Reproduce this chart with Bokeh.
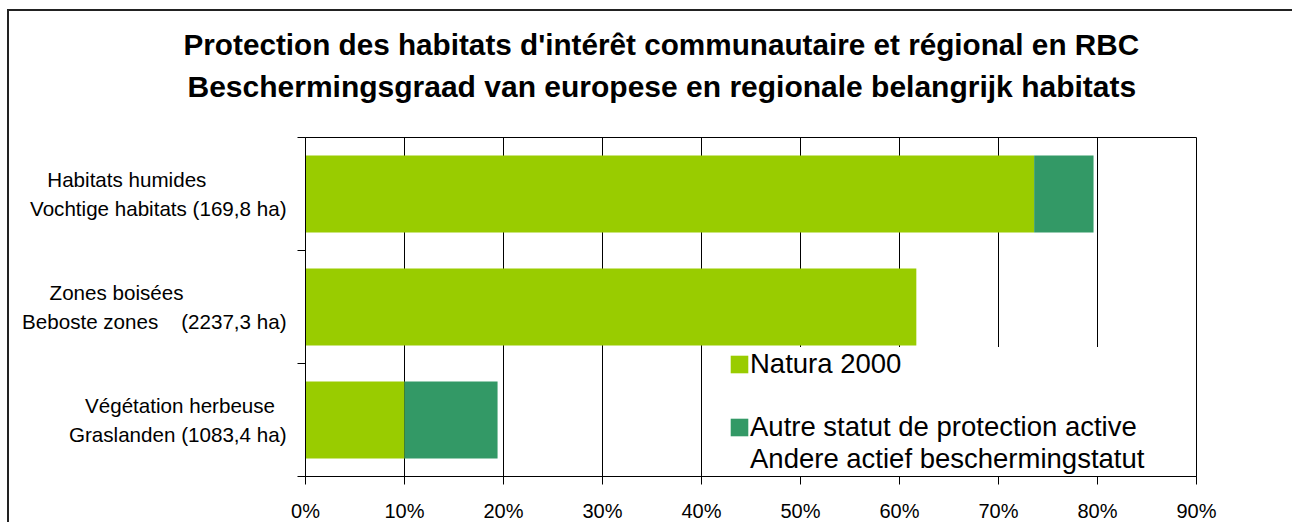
from bokeh.plotting import figure
from bokeh.models import (Range1d, FixedTicker, PrintfTickFormatter, Legend,
                          LegendItem, ColumnDataSource, Title)
from bokeh.embed import file_html
from bokeh.resources import INLINE

# ---- data ----
title_lines = ["Protection des habitats d'intérêt communautaire et régional en RBC",
               "Beschermingsgraad van europese en regionale belangrijk habitats"]
cat_fr = ["Habitats humides", "Zones boisées", "Végétation herbeuse"]
cat_nl = ["Vochtige habitats (169,8 ha)", "Beboste zones\u00a0\u00a0\u00a0 (2237,3 ha)", "Graslanden (1083,4 ha)"]
natura = [73.6, 61.7, 10.0]
autre = [6.0, 0.0, 9.4]
series_labels = ["Natura 2000", "Autre statut de protection active", "Andere actief beschermingstatut"]
x_ticks = [0, 10, 20, 30, 40, 50, 60, 70, 80, 90]

# ---- styles ----
C_NATURA = "#99CC00"
C_AUTRE = "#339966"
FONT = "Liberation Sans"
line1_pad = [14, 18, 2]   # trailing spacing of first label line

n = len(cat_fr)
ypos = [n - 1 - i + 0.5 for i in range(n)]
src = ColumnDataSource(dict(
    y=ypos,
    n_left=[0] * n, n_right=natura,
    a_left=natura, a_right=[a + b for a, b in zip(natura, autre)],
    zero=[0] * n,
))

p = figure(width=1285, height=513, x_range=Range1d(0, 90), y_range=Range1d(0, n),
           output_backend="svg", toolbar_location=None,
           min_border_left=296, min_border_right=98, min_border_top=126, min_border_bottom=46)
p.styles = {"border-left": "2px solid #222", "border-top": "2px solid #222",
            "margin-left": "7px", "margin-top": "9px"}

r1 = p.hbar(y="y", left="n_left", right="n_right", height=0.68, source=src,
            fill_color=C_NATURA, line_color=None)
r2 = p.hbar(y="y", left="a_left", right="a_right", height=0.68, source=src,
            fill_color=C_AUTRE, line_color=None)
dummy = p.hbar(y="y", left="zero", right="zero", height=0.68, source=src,
               fill_alpha=0, line_alpha=0)

p.outline_line_color = "black"
p.outline_line_width = 1

# x axis
xa = p.xaxis[0]
xa.ticker = FixedTicker(ticks=x_ticks)
xa.formatter = PrintfTickFormatter(format="%d%%")
xa.major_label_text_font = FONT
xa.major_label_text_font_size = "20px"
xa.major_label_text_color = "black"
xa.major_tick_out = 8
xa.major_tick_in = 0
xa.minor_tick_line_color = None
xa.axis_line_color = "black"
xa.major_tick_line_color = "black"
xa.major_label_standoff = 15

# y axis: labels at category centres, ticks at category boundaries
ya = p.yaxis[0]
ya.ticker = FixedTicker(ticks=ypos, minor_ticks=list(range(n + 1)))
ya.major_label_overrides = {
    ypos[i]: cat_fr[i] + "\u00a0" * line1_pad[i] + "\n" + cat_nl[i] for i in range(n)
}
ya.major_label_text_font = FONT
ya.major_label_text_font_size = "20.6px"
ya.major_label_text_color = "black"
ya.major_label_text_line_height = 1.25
ya.major_label_standoff = 11
ya.major_tick_out = 0
ya.major_tick_in = 0
ya.major_tick_line_color = None
ya.minor_tick_out = 8
ya.minor_tick_in = 0
ya.minor_tick_line_color = "black"
ya.axis_line_color = "black"

p.xgrid.ticker = FixedTicker(ticks=x_ticks)
p.xgrid.grid_line_color = "black"
p.xgrid.grid_line_width = 1
p.ygrid.grid_line_color = None

# title (two lines)
p.add_layout(Title(text=title_lines[1], align="left", offset=-118, text_font=FONT,
                   text_font_size="30px", text_font_style="bold", text_color="black",
                   standoff=69), "above")
p.add_layout(Title(text=title_lines[0], align="left", offset=-122, text_font=FONT,
                   text_font_size="29.7px", text_font_style="bold", text_color="black",
                   standoff=-54), "above")

legend = Legend(items=[
    LegendItem(label=series_labels[0], renderers=[r1]),
    LegendItem(label=" ", renderers=[dummy]),
    LegendItem(label=series_labels[1], renderers=[r2]),
    LegendItem(label=series_labels[2], renderers=[dummy]),
], location=(422, 0))
legend.label_text_font = FONT
legend.label_text_font_size = "27.5px"
legend.label_text_color = "black"
legend.glyph_width = 22
legend.glyph_height = 22
legend.label_height = 31
legend.spacing = 0
legend.padding = 1
legend.margin = 0
legend.label_standoff = 0
legend.border_line_alpha = 0
legend.background_fill_color = "white"
legend.background_fill_alpha = 1
p.add_layout(legend)

open("out.html", "w").write(file_html(p, INLINE))
